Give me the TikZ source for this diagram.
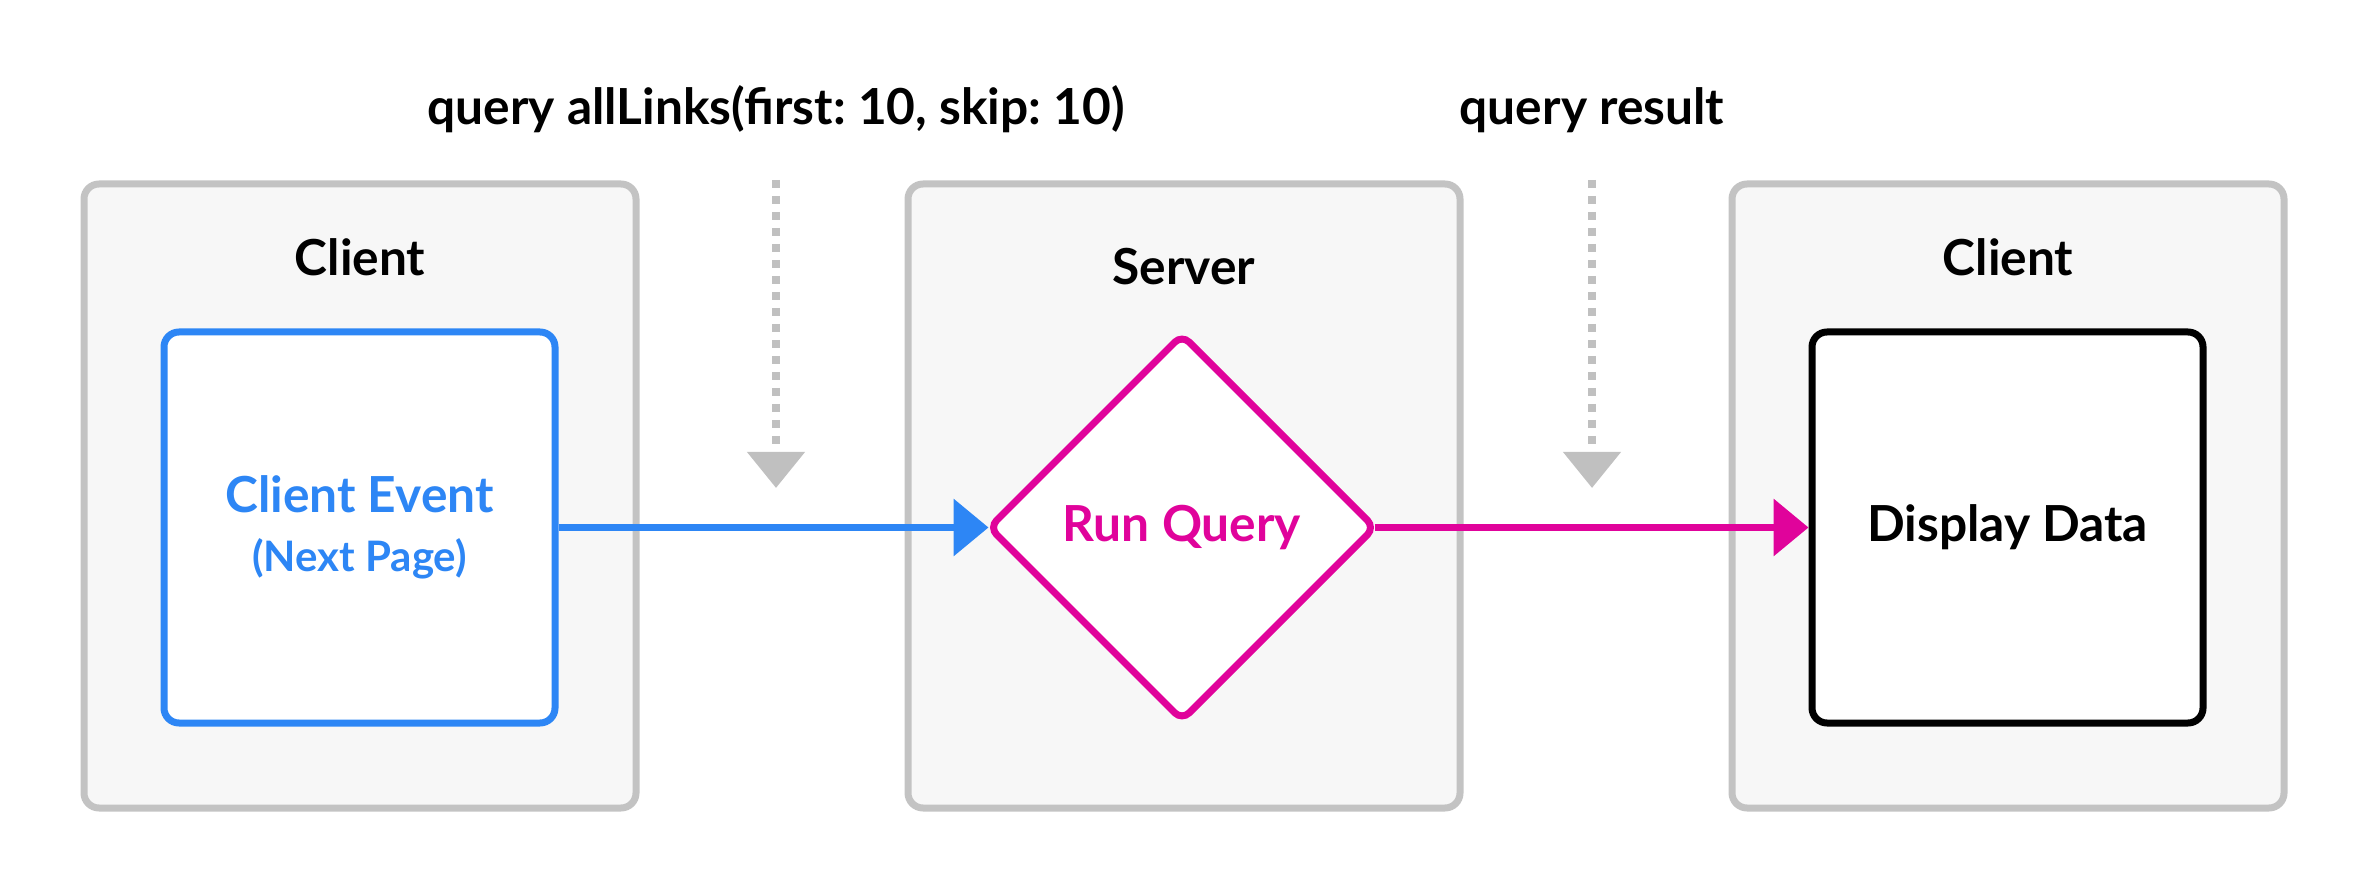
\documentclass[tikz,border=0pt]{standalone}
\usepackage{fontspec}
\setmainfont{Lato}
\frenchspacing
\usetikzlibrary{arrows.meta,shapes.geometric}
\definecolor{boxfill}{HTML}{F7F7F7}
\definecolor{boxline}{HTML}{C3C3C3}
\definecolor{evblue}{HTML}{2D86F5}
\definecolor{qmag}{HTML}{E0039B}
\definecolor{dotgray}{HTML}{C0C0C0}
\begin{document}
\begin{tikzpicture}[x=0.3pt,y=-0.3pt,
  panel/.style={draw=boxline, fill=boxfill, line width=2.1pt, rounded corners=4.5pt,
    minimum width=165.6pt, minimum height=187.2pt, inner sep=0pt},
  titletext/.style={anchor=base, inner sep=0pt, font=\fontsize{14.9pt}{17.5pt}\selectfont\bfseries},
  inbox/.style={fill=white, line width=2.1pt, rounded corners=4.5pt,
    minimum width=117.3pt, minimum height=117.3pt, inner sep=0pt, align=center,
    font=\fontsize{14.9pt}{17.5pt}\selectfont\bfseries},
  decision/.style={diamond, aspect=1, draw=qmag, fill=white, line width=2.1pt, rounded corners=3pt,
    minimum width=116.4pt, minimum height=116.4pt, inner sep=0pt, text=qmag,
    font=\fontsize{14.9pt}{17.5pt}\selectfont\bfseries},
  flowarrow/.style={line width=2.1pt, -{Triangle[length=10.5pt,width=16.8pt]}},
  dotarrow/.style={draw=dotgray, line width=2.4pt, dash pattern=on 2.4pt off 2.4pt,
    -{Triangle[length=10.8pt,width=16.8pt]}}
]
\useasboundingbox (0,0) rectangle (2368,892);

% panels
\node[panel] (p1) at (360,496) {};
\node[panel] (p2) at (1184,496) {};
\node[panel] (p3) at (2008,496) {};
\node[titletext] (t1) at (360,276) {Client};
\node[titletext] (t2) at (1184,285) {Server};
\node[titletext] (t3) at (2008,276) {Client};

% inner nodes
\node[inbox, draw=evblue, text=evblue] (ce) at (359.5,527.5)
  {Client Event\\[0pt]{\fontsize{12.6pt}{14pt}\selectfont (Next Page)}};
\node[decision] (rq) at (1182,527.5) {Run Query};
\node[inbox, draw=black, text=black] (dd) at (2007.5,527.5) {Display Data};

% flow arrows
\draw[flowarrow, evblue, shorten >=-1.2pt] (ce.east) -- (rq.west);
\draw[flowarrow, qmag, shorten <=-1.5pt] (rq.east) -- (dd.west);

% top labels
\node[titletext] (l1) at (776,125) {query allLinks(first: 10, skip: 10)};
\node[titletext] (l2) at (1592,125) {query result};

% dotted arrows
\coordinate (d1s) at (776,180);
\coordinate (d1e) at (776,488);
\coordinate (d2s) at (1592,180);
\coordinate (d2e) at (1592,488);
\draw[dotarrow] (d1s) -- (d1e);
\draw[dotarrow] (d2s) -- (d2e);
\end{tikzpicture}
\end{document}
